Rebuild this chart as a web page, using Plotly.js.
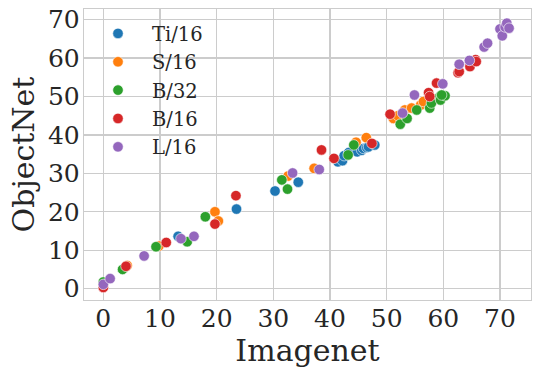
<!DOCTYPE html>
<html>
<head>
<meta charset="utf-8">
<script src="https://cdn.plot.ly/plotly-3.0.1.min.js"></script>
<style>html,body{margin:0;padding:0;background:#fff;}#chart{width:540px;height:375px;}</style>
</head>
<body>
<div id="chart"></div>
<script>
const seriesNames = ["Ti/16", "S/16", "B/32", "B/16", "L/16"];
const seriesColors = ["#1f77b4", "#ff7f0e", "#2ca02c", "#d62728", "#9467bd"];

const tiX = [13.2, 23.5, 30.3, 34.4, 41.4, 42.2, 42.5, 43.3, 44.8, 45.6, 45.9, 46.5, 46.8, 47.9];
const tiY = [13.6, 20.7, 25.4, 27.7, 33.0, 33.3, 34.6, 35.4, 35.6, 36.0, 36.5, 36.7, 36.9, 37.4];

const sX = [4.2, 9.8, 19.7, 20.3, 32.6, 37.2, 44.6, 46.4, 51.2, 52.0, 53.2, 54.4, 56.0, 56.5, 58.4];
const sY = [6.0, 11.1, 20.0, 17.6, 29.3, 31.3, 38.1, 39.3, 44.3, 45.0, 46.5, 47.0, 47.8, 48.7, 49.3];

const b32X = [0.0, 3.4, 9.3, 14.8, 18.0, 31.5, 32.5, 43.2, 44.2, 52.4, 53.6, 55.3, 57.6, 57.9, 59.4, 59.5, 60.3, 59.7];
const b32Y = [1.7, 5.0, 10.9, 12.2, 18.7, 28.3, 25.9, 34.8, 37.4, 42.8, 44.3, 46.5, 47.0, 48.3, 50.0, 49.1, 50.2, 50.4];

const b16X = [0.0, 4.0, 11.1, 19.7, 23.4, 38.5, 40.7, 47.4, 50.6, 57.4, 57.6, 58.8, 62.6, 62.8, 64.7, 65.7, 65.8];
const b16Y = [0.3, 5.8, 12.0, 16.8, 24.2, 36.1, 33.9, 37.8, 45.4, 51.0, 50.0, 53.5, 56.2, 56.5, 57.8, 59.6, 59.1];

const lX = [0.0, 1.2, 7.2, 13.7, 16.0, 33.4, 38.1, 52.8, 54.9, 59.9, 62.8, 64.6, 67.2, 67.8, 70.0, 70.4, 70.9, 71.2, 71.6];
const lY = [1.1, 2.6, 8.5, 13.0, 13.6, 30.1, 31.0, 45.7, 50.4, 53.3, 58.4, 59.4, 62.9, 63.9, 67.6, 65.8, 68.1, 69.1, 67.8];

const tickVals = [0, 10, 20, 30, 40, 50, 60, 70];
const tickText = ["0", "10", "20", "30", "40", "50", "60", "70"];

const xs = [tiX, sX, b32X, b16X, lX];
const ys = [tiY, sY, b32Y, b16Y, lY];

const traces = seriesNames.map((n, i) => ({
  type: "scatter",
  mode: "markers",
  name: n,
  x: xs[i],
  y: ys[i],
  marker: {color: seriesColors[i], size: 10.5, line: {color: "#ffffff", width: 0.6}}
}));

const font = "DejaVu Serif";
const gridC = "#cccccc";
const textC = "#262626";

const layout = {
  width: 540, height: 375,
  margin: {l: 84, r: 9, t: 9, b: 75, pad: 0},
  paper_bgcolor: "#ffffff",
  plot_bgcolor: "#ffffff",
  font: {family: font, color: textC},
  showlegend: true,
  legend: {
    x: 0.0, y: 0.982, xanchor: "left", yanchor: "top",
    bgcolor: "rgba(0,0,0,0)", borderwidth: 0,
    font: {family: font, size: 19.5, color: textC},
    itemwidth: 58
  },
  xaxis: {
    range: [-3.41, 75.47],
    tickvals: tickVals, ticktext: tickText,
    showgrid: true, gridcolor: gridC, gridwidth: 1.3,
    zeroline: false,
    showline: true, linecolor: gridC, linewidth: 1.3, mirror: true,
    ticks: "", ticklabelstandoff: -4,
    tickfont: {family: font, size: 25, color: textC},
    title: {text: "Imagenet", font: {family: font, size: 30, color: textC}, standoff: 5},
    automargin: false
  },
  yaxis: {
    range: [-2.97, 72.79],
    tickvals: tickVals, ticktext: tickText,
    showgrid: true, gridcolor: gridC, gridwidth: 1.3,
    zeroline: false,
    showline: true, linecolor: gridC, linewidth: 1.3, mirror: true,
    ticks: "", ticklabelstandoff: -2,
    tickfont: {family: font, size: 25, color: textC},
    title: {text: "ObjectNet", font: {family: font, size: 30, color: textC}, standoff: 4},
    automargin: false
  }
};

Plotly.newPlot("chart", traces, layout, {displayModeBar: false, staticPlot: true});
</script>
</body>
</html>
